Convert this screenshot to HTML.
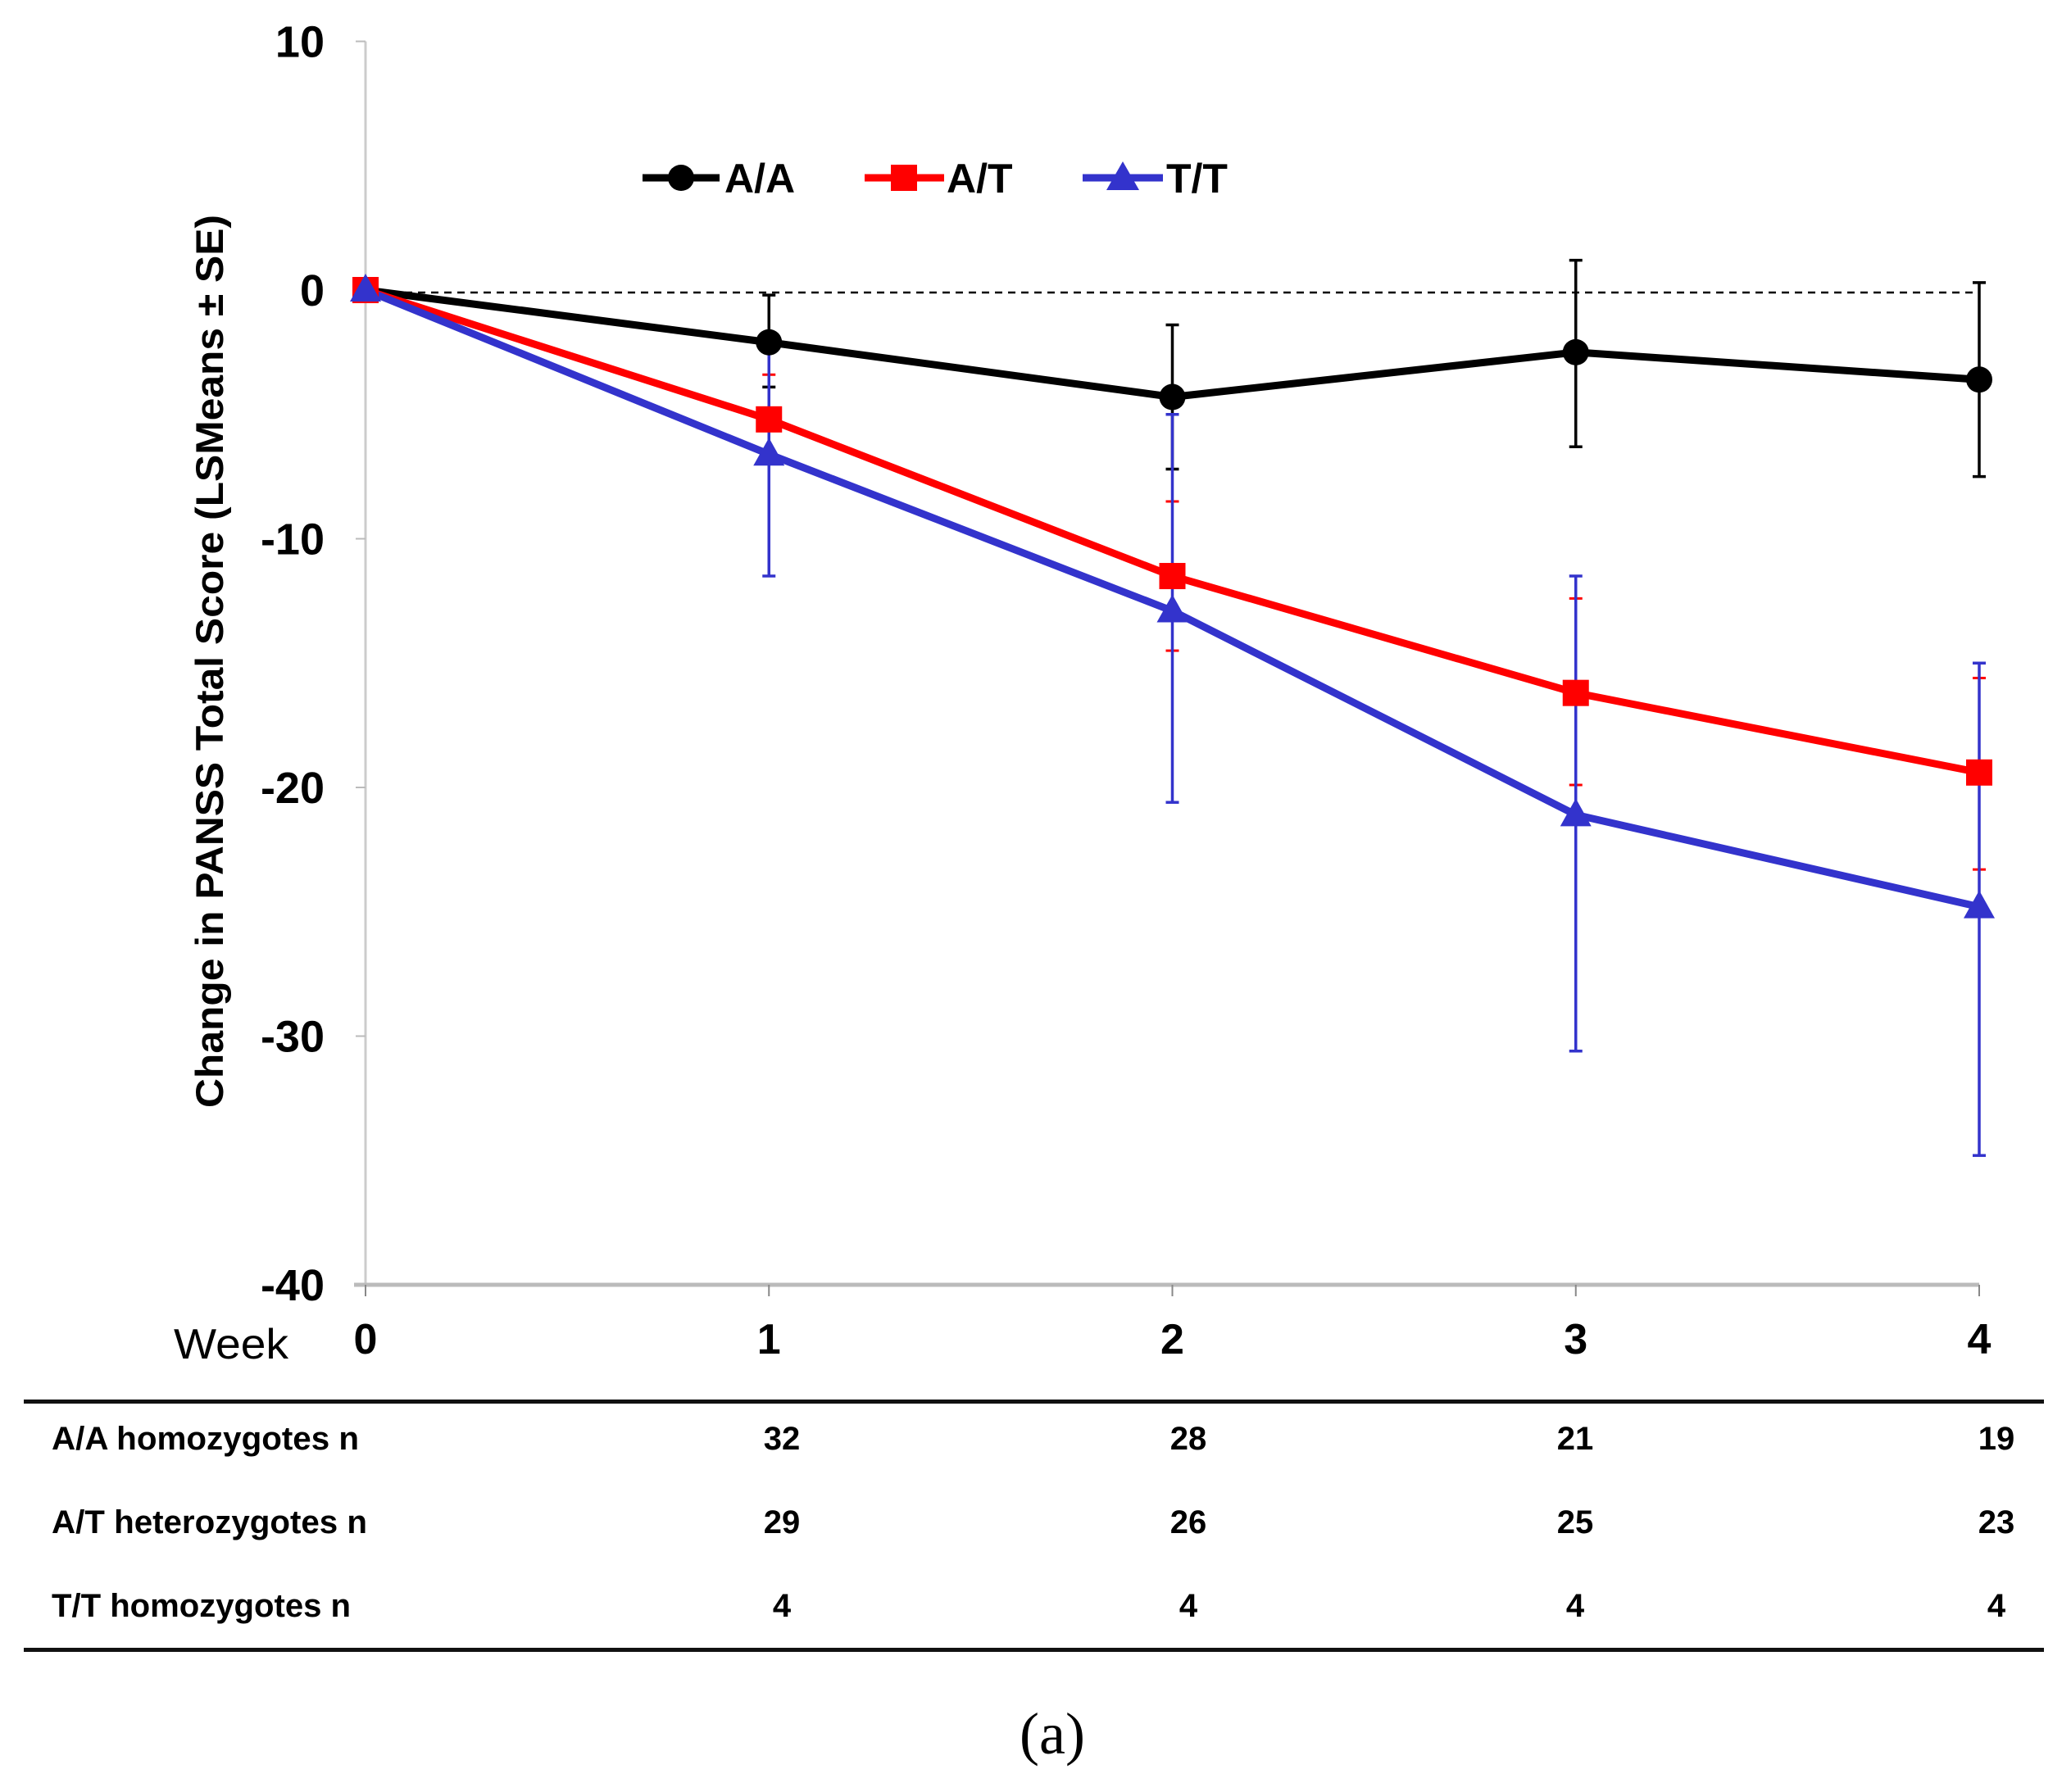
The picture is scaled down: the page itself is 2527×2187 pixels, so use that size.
<!DOCTYPE html>
<html><head><meta charset="utf-8"><style>
body{margin:0;background:#fff}
svg{display:block}
text{font-family:"Liberation Sans",Arial,sans-serif}
</style></head><body>
<svg id="chart" width="2527" height="2187" viewBox="0 0 2527 2187" xmlns="http://www.w3.org/2000/svg">
<g id="axes"></g>
<g id="series"></g>
<g id="legend">
  <line x1="784" y1="217" x2="878" y2="217" stroke="#000" stroke-width="9"/>
  <circle cx="831" cy="217" r="16" fill="#000"/>
  <text x="884" y="235" font-size="50" font-weight="bold">A/A</text>
  <line x1="1055" y1="217" x2="1152" y2="217" stroke="#ff0000" stroke-width="9"/>
  <rect x="1087" y="201" width="32" height="32" fill="#ff0000"/>
  <text x="1155" y="235" font-size="50" font-weight="bold">A/T</text>
  <line x1="1321" y1="217" x2="1419" y2="217" stroke="#3333cc" stroke-width="9"/>
  <polygon points="1370,197 1390,232 1350,232" fill="#3333cc"/>
  <text x="1423" y="235" font-size="50" font-weight="bold">T/T</text>
</g>
<text transform="translate(272,807) rotate(-90)" text-anchor="middle" font-size="47" font-weight="bold" textLength="1090" lengthAdjust="spacingAndGlyphs">Change in PANSS Total Score (LSMeans ± SE)</text>
<text x="282" y="1658" text-anchor="middle" font-size="52" textLength="140" lengthAdjust="spacingAndGlyphs">Week</text>
<g id="table">
  <rect x="29" y="1708" width="2465" height="5" fill="#111"/>
  <rect x="29" y="2011" width="2465" height="5" fill="#111"/>
</g>
<text x="1284" y="2140" text-anchor="middle" font-size="72" style="font-family:'Liberation Serif',serif">(a)</text>
</svg>
<script>
const weeks=[0,1,2,3,4];
const yTicks=[10,0,-10,-20,-30,-40];
const aaMean=[0,-2.1,-4.3,-2.5,-3.6];
const aaHi=[0,-0.2,-1.4,1.2,0.3];
const aaLo=[0,-3.9,-7.2,-6.3,-7.5];
const atMean=[0,-5.2,-11.5,-16.2,-19.4];
const atHi=[0,-3.4,-8.5,-12.4,-15.6];
const atLo=[0,-7.0,-14.5,-19.9,-23.3];
const ttMean=[0,-6.6,-12.9,-21.1,-24.8];
const ttHi=[0,-1.8,-5.0,-11.5,-15.0];
const ttLo=[0,-11.5,-20.6,-30.6,-34.8];
const rowLabels=["A/A homozygotes n","A/T heterozygotes n","T/T homozygotes n"];
const nAA=[32,28,21,19];
const nAT=[29,26,25,23];
const nTT=[4,4,4,4];

const NS="http://www.w3.org/2000/svg";
const X=w=>446+w*(2415-446)/4;
const Y=v=>354-v*30.35;
function mk(tag,attrs,parent,txt){const e=document.createElementNS(NS,tag);for(const k in attrs)e.setAttribute(k,attrs[k]);if(txt!==undefined)e.textContent=txt;parent.appendChild(e);return e;}
const axes=document.getElementById('axes');
let e=mk('line',{x1:446,y1:Y(10),x2:446,y2:Y(-40),stroke:'#ccc','stroke-width':3},axes);


e=mk('line',{x1:432,y1:Y(-40),x2:2415,y2:Y(-40),stroke:'#bbb','stroke-width':5},axes);


e=mk('line',{x1:X(0),y1:Y(-0.1),x2:X(4),y2:Y(-0.1),stroke:'#000','stroke-width':2.5,'stroke-dasharray':'9 7'},axes);


yTicks.forEach(t=>{
  mk('line',{x1:434,y1:Y(t),x2:446,y2:Y(t),stroke:'#bbb','stroke-width':2},axes);
  const l=mk('text',{x:396,y:Y(t)+19,'text-anchor':'end','font-size':54,'font-weight':'bold'},axes,String(t));
  
  
});
weeks.forEach(w=>{
  mk('line',{x1:X(w),y1:Y(-40),x2:X(w),y2:Y(-40)+14,stroke:'#888','stroke-width':2},axes);
  const l=mk('text',{x:X(w),y:1652,'text-anchor':'middle','font-size':52,'font-weight':'bold'},axes,String(w));
  
  
});
const series=document.getElementById('series');
function drawErr(hi,lo,col,w,name){
  const g=mk('g',{},series);
  
  
  weeks.forEach((wk,i)=>{ if(i===0)return;
    mk('line',{x1:X(wk),y1:Y(hi[i]),x2:X(wk),y2:Y(lo[i]),stroke:col,'stroke-width':w},g);
    mk('line',{x1:X(wk)-8,y1:Y(hi[i]),x2:X(wk)+8,y2:Y(hi[i]),stroke:col,'stroke-width':w},g);
    mk('line',{x1:X(wk)-8,y1:Y(lo[i]),x2:X(wk)+8,y2:Y(lo[i]),stroke:col,'stroke-width':w},g);
  });
}
function drawLine(mean,col,name){
  const p=mk('polyline',{points:weeks.map((w,i)=>X(w)+','+Y(mean[i])).join(' '),fill:'none',stroke:col,'stroke-width':9,'stroke-linejoin':'round'},series);
  
  
}
drawErr(atHi,atLo,'#ff0000',3,'error-bars-at');
drawErr(aaHi,aaLo,'#000',3.5,'error-bars-aa');
drawErr(ttHi,ttLo,'#3333cc',3.5,'error-bars-tt');
drawLine(aaMean,'#000','line-aa');
drawLine(atMean,'#ff0000','line-at');
drawLine(ttMean,'#3333cc','line-tt');
weeks.forEach((w,i)=>{
  let c=mk('circle',{cx:X(w),cy:Y(aaMean[i]),r:16,fill:'#000'},series);
  
  
  let r=mk('rect',{x:X(w)-16,y:Y(atMean[i])-16,width:32,height:32,fill:'#ff0000'},series);
  
  
  const cx=X(w),cy=Y(ttMean[i]);
  let t=mk('polygon',{points:`${cx},${cy-20} ${cx+19},${cy+14} ${cx-19},${cy+14}`,fill:'#3333cc'},series);
  
  
});
const table=document.getElementById('table');
const colX=[954,1450,1922,2436];
const rowY=[1769,1871,1973];
const rowW=[375,385,365];
[nAA,nAT,nTT].forEach((arr,r)=>{
  const l=mk('text',{x:63,y:rowY[r],'font-size':40,'font-weight':'bold',textLength:rowW[r],lengthAdjust:'spacingAndGlyphs'},table,rowLabels[r]);
  
  
  arr.forEach((n,c)=>{
    const v=mk('text',{x:colX[c],y:rowY[r],'text-anchor':'middle','font-size':40,'font-weight':'bold'},table,String(n));
    
    
  });
});
</script>
</body></html>
